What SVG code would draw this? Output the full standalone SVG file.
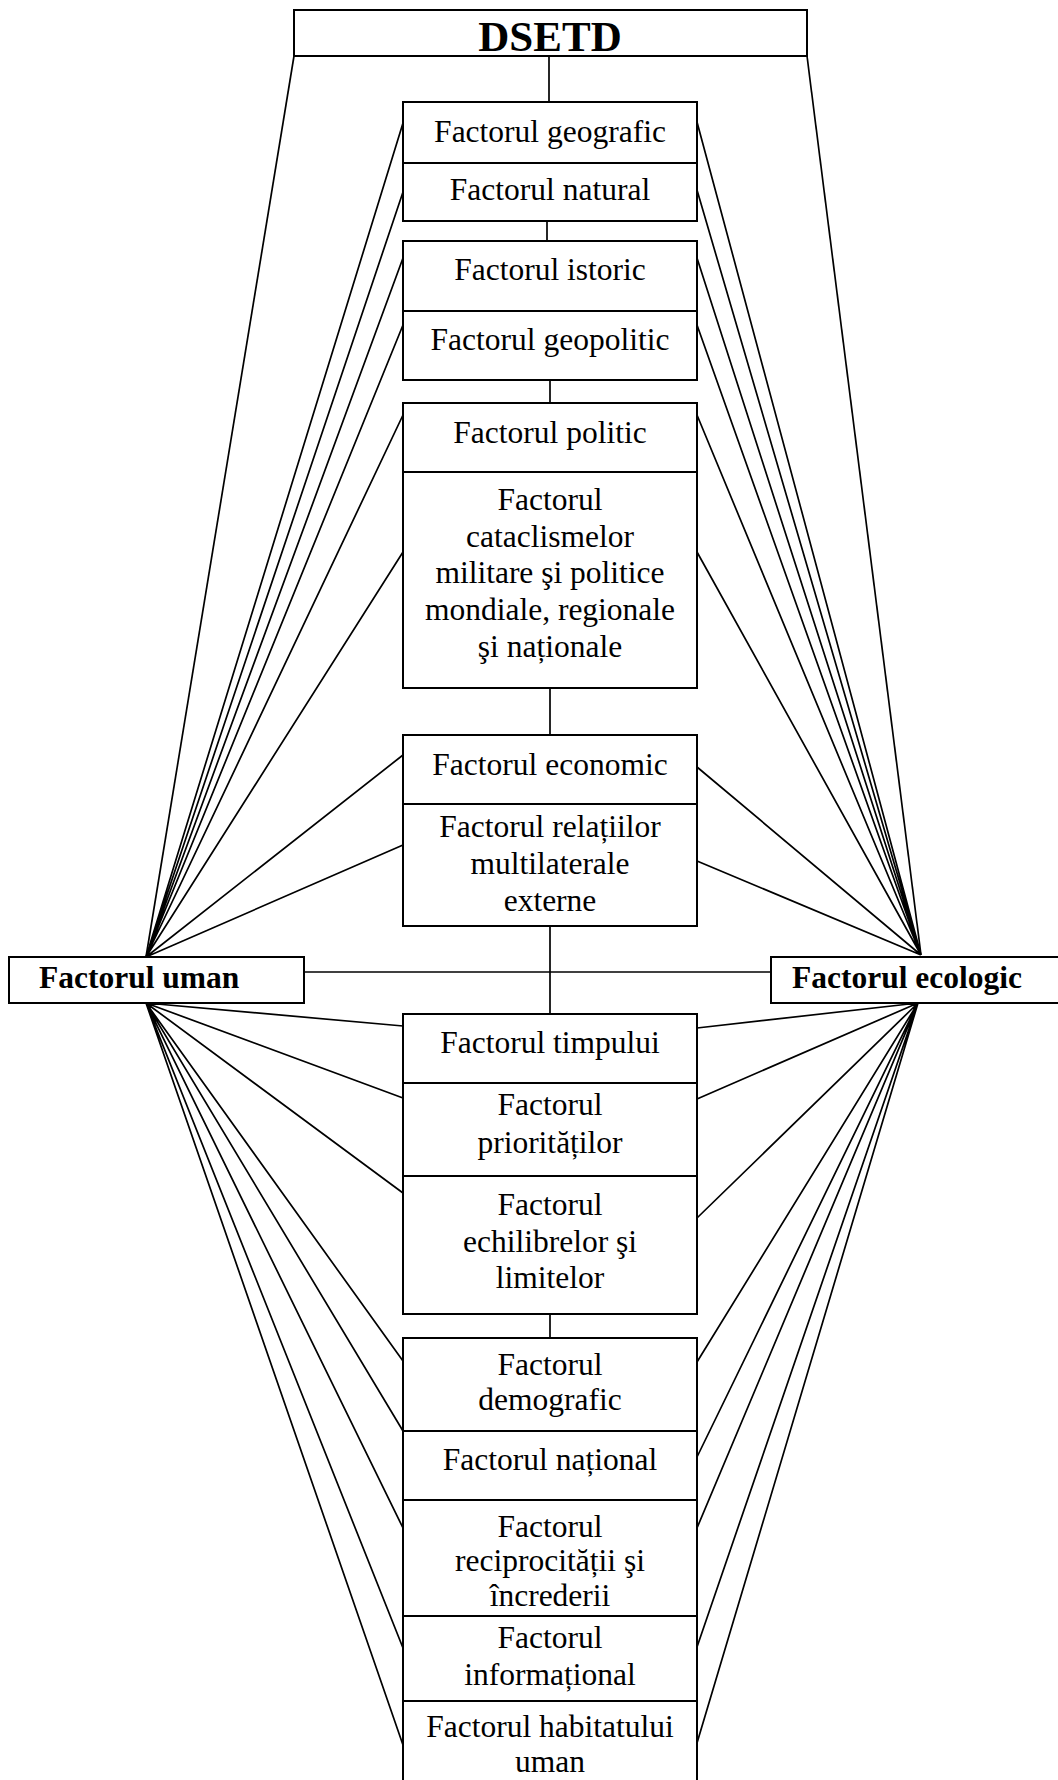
<svg xmlns="http://www.w3.org/2000/svg" width="1058" height="1780" viewBox="0 0 1058 1780">
<style>
.box{fill:#fff;stroke:#000;stroke-width:2}
.ln{stroke:#000;stroke-width:1.7;fill:none}
.t{font-family:"Liberation Serif","Times New Roman",serif;font-size:31.5px;text-anchor:middle;fill:#000}
.b{font-family:"Liberation Serif","Times New Roman",serif;font-size:31.5px;font-weight:bold;fill:#000}
</style>
<rect width="1058" height="1780" fill="#fff"/>
<g id="connectors">
<line class="ln" x1="294" y1="56" x2="146" y2="957"/>
<line class="ln" x1="807" y1="56" x2="921" y2="955"/>
<line class="ln" x1="549" y1="56" x2="549" y2="102"/>
<line class="ln" x1="547" y1="221" x2="547" y2="241"/>
<line class="ln" x1="550" y1="380" x2="550" y2="403"/>
<line class="ln" x1="550" y1="688" x2="550" y2="735"/>
<line class="ln" x1="550" y1="926" x2="550" y2="1014"/>
<line class="ln" x1="550" y1="1314" x2="550" y2="1338"/>
<line class="ln" x1="304" y1="972" x2="771" y2="972"/>
<path class="ln" d="M146,957L403,123M146,957L403,192M146,957L403,258M146,957L403,325M146,957L403,415M146,957L403,552M146,957L403,755M146,957L403,845"/>
<path class="ln" d="M921,955L697,122M921,955L697,190M921,955L697,258M921,955L697,325M921,955L697,415M921,955L697,552M921,955L697,767M921,955L697,861"/>
<path class="ln" d="M146,1003L403,1026M146,1003L403,1098M146,1003L403,1193M146,1003L403,1361M146,1003L403,1431M146,1003L403,1528M146,1003L403,1648M146,1003L403,1745"/>
<path class="ln" d="M918,1003L697,1028M918,1003L697,1099M918,1003L697,1218M918,1003L697,1362M918,1003L697,1457M918,1003L697,1528M918,1003L697,1647M918,1003L697,1743"/>
</g>
<g id="dsetd"><rect class="box" x="294" y="10" width="513" height="46"/><text class="b" x="550" y="51" text-anchor="middle" style="font-size:43px">DSETD</text></g>
<g id="uman"><rect class="box" x="9" y="957" width="295" height="46"/><text class="b" x="39" y="988">Factorul uman</text></g>
<g id="ecologic"><rect class="box" x="771" y="957" width="300" height="46"/><text class="b" x="792" y="988">Factorul ecologic</text></g>
<g id="geografic"><rect class="box" x="403" y="102" width="294" height="61"/><text class="t" x="550" y="142">Factorul geografic</text></g>
<g id="natural"><rect class="box" x="403" y="163" width="294" height="58"/><text class="t" x="550" y="200">Factorul natural</text></g>
<g id="istoric"><rect class="box" x="403" y="241" width="294" height="70"/><text class="t" x="550" y="280">Factorul istoric</text></g>
<g id="geopolitic"><rect class="box" x="403" y="311" width="294" height="69"/><text class="t" x="550" y="350">Factorul geopolitic</text></g>
<g id="politic"><rect class="box" x="403" y="403" width="294" height="69"/><text class="t" x="550" y="443">Factorul politic</text></g>
<g id="cataclisme"><rect class="box" x="403" y="472" width="294" height="216"/><text class="t" x="550" y="510">Factorul<tspan x="550" dy="36.7">cataclismelor</tspan><tspan x="550" dy="36.7">militare şi politice</tspan><tspan x="550" dy="36.7">mondiale, regionale</tspan><tspan x="550" dy="36.7">şi naționale</tspan></text></g>
<g id="economic"><rect class="box" x="403" y="735" width="294" height="69"/><text class="t" x="550" y="775">Factorul economic</text></g>
<g id="relatii"><rect class="box" x="403" y="804" width="294" height="122"/><text class="t" x="550" y="837">Factorul relațiilor<tspan x="550" dy="37">multilaterale</tspan><tspan x="550" dy="37">externe</tspan></text></g>
<g id="timpului"><rect class="box" x="403" y="1014" width="294" height="69"/><text class="t" x="550" y="1053">Factorul timpului</text></g>
<g id="prioritati"><rect class="box" x="403" y="1083" width="294" height="93"/><text class="t" x="550" y="1115">Factorul<tspan x="550" dy="38">priorităților</tspan></text></g>
<g id="echilibre"><rect class="box" x="403" y="1176" width="294" height="138"/><text class="t" x="550" y="1215">Factorul<tspan x="550" dy="36.7">echilibrelor şi</tspan><tspan x="550" dy="36.7">limitelor</tspan></text></g>
<g id="demografic"><rect class="box" x="403" y="1338" width="294" height="93"/><text class="t" x="550" y="1375">Factorul<tspan x="550" dy="35">demografic</tspan></text></g>
<g id="national"><rect class="box" x="403" y="1431" width="294" height="69"/><text class="t" x="550" y="1470">Factorul național</text></g>
<g id="reciprocitate"><rect class="box" x="403" y="1500" width="294" height="116"/><text class="t" x="550" y="1537">Factorul<tspan x="550" dy="34">reciprocității şi</tspan><tspan x="550" dy="35">încrederii</tspan></text></g>
<g id="informational"><rect class="box" x="403" y="1616" width="294" height="85"/><text class="t" x="550" y="1648">Factorul<tspan x="550" dy="37">informațional</tspan></text></g>
<g id="habitat"><rect class="box" x="403" y="1701" width="294" height="95"/><text class="t" x="550" y="1737">Factorul habitatului<tspan x="550" dy="35">uman</tspan></text></g>
</svg>
